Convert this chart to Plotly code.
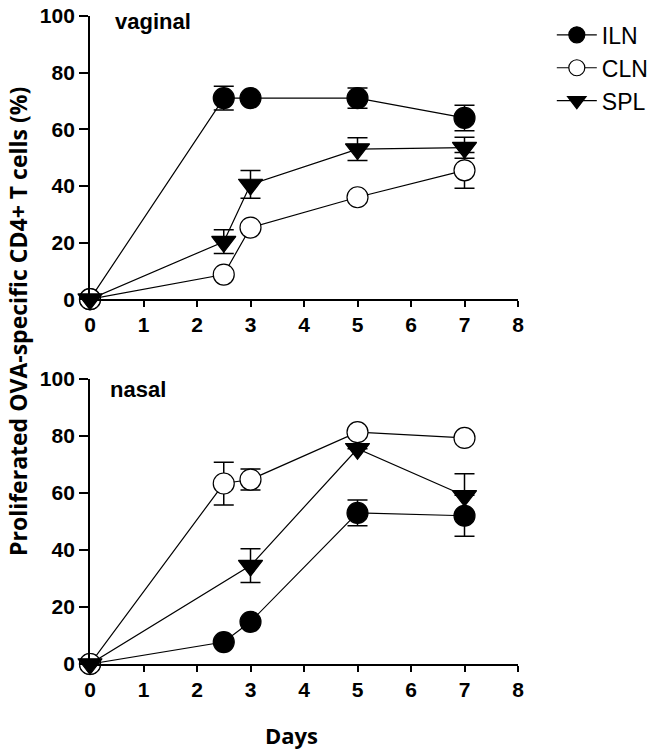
import plotly.graph_objects as go

# ── Data ───────────────────────────────────────────────────────────────
vag_iln_days = [0, 2.5, 3, 5, 7]
vag_iln_vals = [0, 71, 71, 71, 64]
vag_iln_err = [0, 4.2, 0, 3.6, 4.5]

vag_cln_days = [0, 2.5, 3, 5, 7]
vag_cln_vals = [0, 8.7, 25.3, 36, 45.5]
vag_cln_err = [0, 0, 0, 0, 6.3]

vag_spl_days = [0, 2.5, 3, 5, 7]
vag_spl_vals = [0, 20.3, 40.5, 53, 53.5]
vag_spl_err = [0, 4.2, 4.9, 4, 3.7]

nas_iln_days = [0, 2.5, 3, 5, 7]
nas_iln_vals = [0, 7.7, 14.8, 53, 52]
nas_iln_err = [0, 0, 0, 4.5, 7.2]

nas_cln_days = [0, 2.5, 3, 5, 7]
nas_cln_vals = [0, 63.3, 64.7, 81.3, 79.3]
nas_cln_err = [0, 7.5, 3.7, 0, 0]

nas_spl_days = [0, 3, 5, 7]
nas_spl_vals = [0, 34.5, 75.5, 59]
nas_spl_err = [0, 5.9, 0, 7.7]

x_ticks = [0, 1, 2, 3, 4, 5, 6, 7, 8]
y_ticks = [0, 20, 40, 60, 80, 100]

TICK_FONT = dict(family="Liberation Sans", size=21, color="black", weight="bold")
TITLE_FONT = "Open Sans"

SERIES = {
    "ILN": dict(symbol="circle", fill="black"),
    "CLN": dict(symbol="circle", fill="white"),
    "SPL": dict(symbol="triangle-down", fill="black"),
}

fig = go.Figure()


def add_series(name, days, vals, err, xa, ya, show):
    st = SERIES[name]
    fig.add_trace(go.Scatter(
        x=days, y=vals, mode="lines+markers", name=name,
        xaxis=xa, yaxis=ya, showlegend=show, legendgroup=name,
        line=dict(color="black", width=1.2),
        marker=dict(symbol=st["symbol"], size=21, color=st["fill"],
                    line=dict(color="black", width=1.2)),
        error_y=dict(type="data", array=err, visible=True, color="black", thickness=1.5, width=10),
        cliponaxis=False,
    ))


# ── Top panel: vaginal ─────────────────────────────────────────────────
add_series("ILN", vag_iln_days, vag_iln_vals, vag_iln_err, "x", "y", True)
add_series("CLN", vag_cln_days, vag_cln_vals, vag_cln_err, "x", "y", True)
add_series("SPL", vag_spl_days, vag_spl_vals, vag_spl_err, "x", "y", True)

# ── Bottom panel: nasal ────────────────────────────────────────────────
add_series("ILN", nas_iln_days, nas_iln_vals, nas_iln_err, "x2", "y2", False)
add_series("CLN", nas_cln_days, nas_cln_vals, nas_cln_err, "x2", "y2", False)
add_series("SPL", nas_spl_days, nas_spl_vals, nas_spl_err, "x2", "y2", False)

axis_common = dict(
    showgrid=False, zeroline=False, showline=True, linecolor="black", linewidth=1.8,
    ticks="outside", tickcolor="black", tickwidth=1.8, tickfont=TICK_FONT,
    ticklabeloverflow="allow",
)

# the page body adds an 8px margin, so the figure is 8px smaller each way
fig.update_layout(
    width=648, height=746,
    paper_bgcolor="white", plot_bgcolor="white",
    margin=dict(l=82, r=138, t=8, b=90, autoexpand=False),
    xaxis=dict(axis_common, domain=[0, 1], range=[0, 8], tickvals=x_ticks, ticklen=6, anchor="y"),
    yaxis=dict(axis_common, domain=[0.563, 1], range=[0, 100], tickvals=y_ticks, ticklen=9, anchor="x"),
    xaxis2=dict(axis_common, domain=[0, 1], range=[0, 8], tickvals=x_ticks, ticklen=6, anchor="y2"),
    yaxis2=dict(axis_common, domain=[0, 0.44], range=[0, 100], tickvals=y_ticks, ticklen=9, anchor="x2"),
    legend=dict(
        x=1.079, y=1.004, xanchor="left", yanchor="top",
        font=dict(family="Liberation Sans", size=23, color="black"),
        bgcolor="rgba(0,0,0,0)", itemwidth=40, tracegroupgap=0,
    ),
    showlegend=True,
)

fig.add_annotation(text="<b>vaginal</b>", x=0.054, y=0.992, xref="paper", yref="paper",
                   xanchor="left", yanchor="middle", showarrow=False,
                   font=dict(family="Liberation Sans", size=22, color="black"))
fig.add_annotation(text="<b>nasal</b>", x=0.041, y=0.423, xref="paper", yref="paper",
                   xanchor="left", yanchor="middle", showarrow=False,
                   font=dict(family="Liberation Sans", size=22, color="black"))
fig.add_annotation(text="<b>Proliferated OVA-specific CD4+ T cells (%)</b>", textangle=-90,
                   x=-0.168, y=0.528, xref="paper", yref="paper",
                   xanchor="center", yanchor="middle", showarrow=False,
                   font=dict(family=TITLE_FONT, size=23, color="black"))
fig.add_annotation(text="<b>Days</b>", x=0.47, y=-0.109, xref="paper", yref="paper",
                   xanchor="center", yanchor="middle", showarrow=False,
                   font=dict(family=TITLE_FONT, size=22, color="black"))

fig.write_html("out.html")
